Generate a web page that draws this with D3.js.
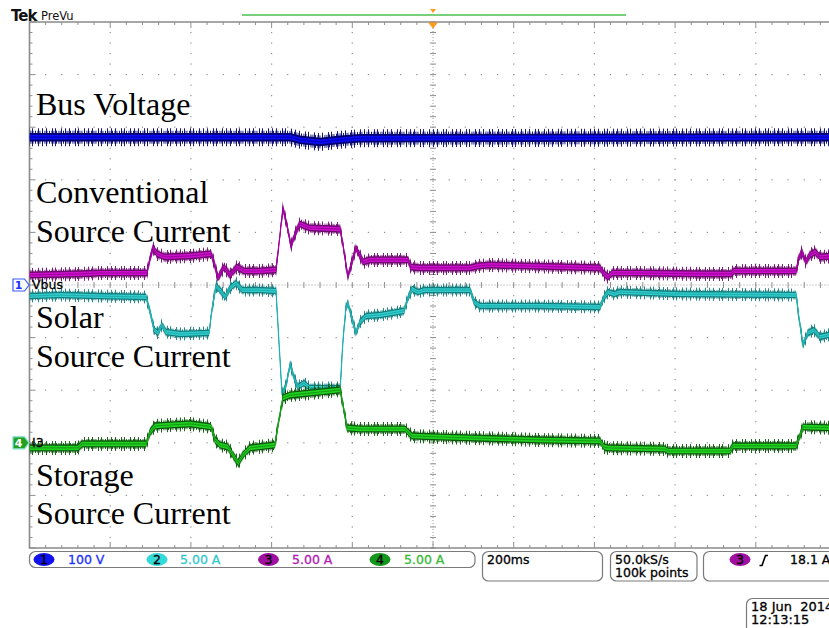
<!DOCTYPE html>
<html><head><meta charset="utf-8">
<script src="https://cdn.jsdelivr.net/npm/d3@7"></script>
<style>
html,body{margin:0;padding:0;background:#fff;}
svg{display:block;}
</style></head><body>
<svg id="scope" width="829" height="628"></svg>
<script>
// ---- Acquisition / display settings ----
const timeDomain = [-1000, 1000];      // ms, 200 ms/div over 10 divisions
const divDomain = [-5, 5];             // vertical divisions

// Channel settings: units per division and ground position in divisions
const ch1Scale = 100, ch1Offset = 0;     // Vbus (V)
const ch2Scale = 5,   ch2Offset = -3;    // solar source current (A)
const ch3Scale = 5,   ch3Offset = -3.3;  // conventional source current (A)
const ch4Scale = 5,   ch4Offset = -3;    // storage source current, I3 (A)

// ---- Waveform breakpoints: [time ms, value] ----
const busVoltage = [[-1000,281],[-354,281],[-330,276],[-280,272],[-230,276],[-181,279],[1000,281]];

const solarCurrent = [[-1000,13.95],[-924,14.05],[-825,13.95],[-711,13.86],[-701,12.43],[-691,10.72],[-682,10.44],[-672,11.20],[-662,10.53],[-627,10.34],[-555,10.44],[-548,12.62],[-538,14.90],[-528,14.52],[-515,13.86],[-503,14.71],[-488,15.19],[-473,14.52],[-429,14.52],[-389,14.43],[-382,9.77],[-374,4.54],[-364,5.49],[-354,7.49],[-344,6.16],[-335,5.30],[-320,5.68],[-305,5.21],[-230,5.21],[-223,9.77],[-216,12.81],[-211,13.29],[-201,11.86],[-191,10.44],[-181,11.48],[-166,12.05],[-131,12.15],[-72,12.53],[-62,13.76],[-52,14.62],[-37,14.33],[-22,14.52],[92,14.52],[102,13.38],[116,13.01],[265,13.01],[414,12.91],[424,13.86],[434,14.33],[449,14.14],[463,14.33],[612,14.14],[900,14.05],[907,11.86],[917,9.30],[929,10.44],[944,10.72],[959,10.06],[1000,10.44]];

const conventionalCurrent = [[-1000,17.45],[-875,17.55],[-825,17.64],[-709,17.64],[-701,19.07],[-694,20.02],[-684,19.45],[-664,19.16],[-602,19.26],[-550,19.45],[-543,18.69],[-533,17.17],[-518,18.21],[-503,17.45],[-486,18.21],[-468,17.83],[-429,17.83],[-389,17.93],[-382,20.30],[-372,23.82],[-362,22.21],[-352,20.21],[-340,21.54],[-330,22.30],[-305,21.92],[-230,21.82],[-223,20.30],[-211,17.26],[-201,18.69],[-191,20.02],[-181,19.26],[-173,18.69],[-156,18.88],[-62,18.88],[-55,18.21],[-32,18.12],[92,18.12],[112,18.31],[141,18.40],[414,18.12],[424,17.55],[434,17.26],[444,17.64],[513,17.64],[662,17.55],[739,17.55],[746,17.83],[900,17.83],[907,19.07],[914,19.64],[924,18.69],[934,19.35],[947,19.64],[959,19.16],[1000,19.26]];

const storageCurrent = [[-1000,-0.49],[-880,-0.49],[-870,-0.11],[-711,-0.11],[-701,1.03],[-689,1.60],[-652,1.69],[-602,1.79],[-565,1.60],[-550,1.50],[-540,0.27],[-528,-0.21],[-508,-0.40],[-496,-1.16],[-483,-1.92],[-471,-1.16],[-454,-0.49],[-392,-0.21],[-384,1.69],[-372,4.26],[-354,4.54],[-280,4.83],[-230,5.02],[-223,3.59],[-213,1.41],[-181,1.31],[-69,1.31],[-62,1.03],[-52,0.65],[17,0.55],[265,0.27],[414,0.17],[424,-0.40],[434,-0.49],[575,-0.59],[582,-0.78],[736,-0.78],[743,-0.30],[900,-0.30],[910,0.74],[917,1.50],[1000,1.41]];

// ---- Text ----
const traceTitles = [["Bus Voltage"], ["Conventional", "Source Current"], ["Solar", "Source Current"], ["Storage", "Source Current"]];
const channelNumbers = ["1", "2", "3", "4"];
const channelReadouts = ["100 V", "5.00 A", "5.00 A", "5.00 A"];
const timebaseText = "200ms";
const sampleText = ["50.0kS/s", "100k points"];
const triggerSource = "3", triggerLevel = "18.1 A";
const dateText = ["18 Jun\u00a0\u00a02014", "12:13:15"];

(function draw() {
  const svg = d3.select("#scope");
  const gLeft = 29.5, gRight = 836.5, gTop = 22, gBottom = 548;
  const x = d3.scaleLinear().domain(timeDomain).range([gLeft, gRight]);
  const y = d3.scaleLinear().domain(divDomain).range([gBottom, gTop]);
  const sans = "DejaVu Sans, sans-serif";

  const defs = svg.append("defs");
  defs.append("clipPath").attr("id", "plotclip").append("rect")
    .attr("x", gLeft).attr("y", gTop).attr("width", gRight - gLeft).attr("height", gBottom - gTop);

  // vertical-stroke patterns that give each trace its noisy fringe
  function spikePattern(id, color, width, xs) {
    const p = defs.append("pattern").attr("id", id).attr("patternUnits", "userSpaceOnUse")
      .attr("width", width).attr("height", 8);
    xs.forEach(v => p.append("rect").attr("x", v).attr("y", 0).attr("width", 0.9).attr("height", 8).attr("fill", color));
  }

  // ---- Graticule ----
  const grat = svg.append("g");
  const minorX = d3.range(timeDomain[0], timeDomain[1] + 1, 40);
  const majorX = d3.range(timeDomain[0], timeDomain[1] + 1, 200);
  const minorY = d3.range(0, 51).map(i => -5 + i * 0.2);
  const majorY = d3.range(-5, 6, 1);
  const gridCol = "#8f8f8f";

  majorX.filter(t => t !== 0 && Math.abs(t) !== 1000).forEach(t => {
    minorY.slice(1, -1).forEach(d => grat.append("rect").attr("x", x(t) - 0.6).attr("y", y(d) - 0.6)
      .attr("width", 1.2).attr("height", 1.2).attr("fill", gridCol));
  });
  majorY.filter(d => d !== 0 && Math.abs(d) !== 5).forEach(d => {
    minorX.slice(1, -1).forEach(t => grat.append("rect").attr("x", x(t) - 0.6).attr("y", y(d) - 0.6)
      .attr("width", 1.2).attr("height", 1.2).attr("fill", gridCol));
  });

  grat.append("line").attr("x1", gLeft).attr("x2", gRight).attr("y1", y(0)).attr("y2", y(0))
    .attr("stroke", "#9a9a9a").attr("stroke-dasharray", "1,2");
  grat.append("line").attr("x1", x(0)).attr("x2", x(0)).attr("y1", gTop).attr("y2", gBottom)
    .attr("stroke", "#9a9a9a").attr("stroke-dasharray", "1,2");
  minorX.forEach(t => grat.append("line").attr("x1", x(t)).attr("x2", x(t))
    .attr("y1", y(0) - 3).attr("y2", y(0) + 3).attr("stroke", gridCol));
  minorY.forEach(d => grat.append("line").attr("x1", x(0) - 3).attr("x2", x(0) + 3)
    .attr("y1", y(d)).attr("y2", y(d)).attr("stroke", gridCol));

  minorX.forEach((t, i) => {
    const L = i % 5 === 0 ? 6 : 3;
    grat.append("line").attr("x1", x(t)).attr("x2", x(t)).attr("y1", gTop).attr("y2", gTop + L).attr("stroke", gridCol);
    grat.append("line").attr("x1", x(t)).attr("x2", x(t)).attr("y1", gBottom).attr("y2", gBottom - L).attr("stroke", gridCol);
  });
  minorY.forEach((d, i) => {
    const L = i % 5 === 0 ? 6 : 3;
    grat.append("line").attr("x1", gLeft).attr("x2", gLeft + L).attr("y1", y(d)).attr("y2", y(d)).attr("stroke", gridCol);
  });
  grat.append("path").attr("d", `M${gRight},${gTop}H${gLeft}V${gBottom}H${gRight}`)
    .attr("fill", "none").attr("stroke", "#8a8a8a").attr("stroke-width", 1.6);

  // ---- Trace titles ----
  const titleRows = [[115], [203, 242], [328, 367], [486, 524]];
  traceTitles.forEach((lines, i) => lines.forEach((s, j) =>
    svg.append("text").attr("x", 36).attr("y", titleRows[i][j])
      .attr("font-family", "Liberation Serif, Times New Roman, serif").attr("font-size", 32)
      .attr("fill", "#000").text(s)));

  // ---- Traces ----
  const plot = svg.append("g").attr("clip-path", "url(#plotclip)");
  function drawTrace(data, scale, offset, st) {
    spikePattern(st.id + "-d", st.dark, 7, [0, 2.5, 4.5]);
    spikePattern(st.id + "-s", st.dark, 23, [0, 6, 9, 15, 19]);
    const X = d => x(d[0]);
    const Y = d => y(d[1] / scale + offset);
    const band = h => d3.area().x(X).y0(d => Y(d) + h).y1(d => Y(d) - h)(data);
    const g = plot.append("g");
    g.append("path").attr("d", band(st.outer)).attr("fill", `url(#${st.id}-s)`);
    g.append("path").attr("d", band(st.inner)).attr("fill", `url(#${st.id}-d)`);
    g.append("path").attr("d", band(st.body)).attr("fill", st.dark);
    g.append("path").attr("d", band(st.core)).attr("fill", st.bright);
    g.append("path").attr("d", d3.line().x(X).y(Y)(data)).attr("fill", "none")
      .attr("stroke", st.mid).attr("stroke-width", 1.2);
  }
  drawTrace(conventionalCurrent, ch3Scale, ch3Offset,
    {id: "c3", dark: "#6e0a6e", bright: "#cc10cc", mid: "#a000a0", outer: 7, inner: 5, body: 3.6, core: 2.1});
  drawTrace(solarCurrent, ch2Scale, ch2Offset,
    {id: "c2", dark: "#137d7d", bright: "#33cccc", mid: "#1fb0b0", outer: 6.5, inner: 4.5, body: 3.3, core: 1.9});
  drawTrace(storageCurrent, ch4Scale, ch4Offset,
    {id: "c4", dark: "#0a560a", bright: "#22d022", mid: "#12a012", outer: 7, inner: 5, body: 3.6, core: 2.2});
  drawTrace(busVoltage, ch1Scale, ch1Offset,
    {id: "c1", dark: "#00006e", bright: "#0c0cf0", mid: "#0000c0", outer: 9, inner: 6.5, body: 4.2, core: 2.4});

  // ---- Channel ground markers ----
  function groundMarker(yy, num, fill, stroke, txtCol, label) {
    const g = svg.append("g");
    g.append("path").attr("d", `M13,${yy - 6}h11.5l4.5,6l-4.5,6h-11.5z`)
      .attr("fill", fill).attr("stroke", stroke).attr("stroke-width", 1.2);
    g.append("text").attr("x", 18.5).attr("y", yy + 4.2).attr("text-anchor", "middle")
      .attr("font-family", sans).attr("font-size", 11).attr("font-weight", "bold").attr("fill", txtCol).text(num);
    g.append("text").attr("x", 32).attr("y", yy + 4).attr("font-family", sans).attr("font-size", 12.5)
      .attr("fill", "#000").attr("stroke", "#000").attr("stroke-width", 0.3).text(label);
  }
  groundMarker(y(ch1Offset), channelNumbers[0], "#fff", "#3a5cff", "#2030ff", "Vbus");
  groundMarker(y(ch4Offset), channelNumbers[3], "#22a022", "#7fe0d0", "#fff", "I3");

  // ---- Header ----
  svg.append("text").attr("x", 11).attr("y", 21).attr("font-family", sans).attr("font-weight", "bold")
    .attr("font-size", 15).attr("letter-spacing", -1).attr("fill", "#111").text("Tek");
  svg.append("text").attr("x", 41).attr("y", 20).attr("font-family", sans)
    .attr("font-size", 11.5).attr("fill", "#111").text("PreVu");
  svg.append("line").attr("x1", 242).attr("x2", 626).attr("y1", 15).attr("y2", 15)
    .attr("stroke", "#4cbf4c").attr("stroke-width", 1.5);
  svg.append("path").attr("d", `M${x(0) - 3},9h6l-3,4z`).attr("fill", "#ff9a1a");
  svg.append("path").attr("d", `M${x(0) - 5},22.5h10l-5,6z`).attr("fill", "#ff9a1a");

  // ---- Readout bar ----
  const bar = svg.append("g").attr("font-family", sans).attr("font-size", 12.5).attr("stroke-width", 0.3);
  const boxStroke = "#7a7a7a";
  function box(x0, x1, y0, y1) {
    bar.append("rect").attr("x", x0).attr("y", y0).attr("width", x1 - x0).attr("height", y1 - y0)
      .attr("rx", 6).attr("fill", "#fff").attr("stroke", boxStroke).attr("stroke-width", 1.2);
  }
  function label(xx, yy, col, s, anchor) {
    bar.append("text").attr("x", xx).attr("y", yy).attr("fill", col).attr("stroke", col)
      .attr("text-anchor", anchor || "start").text(s);
  }
  box(29.5, 475, 551.5, 567.5);
  const badgeCol = ["#1212ee", "#33dada", "#a010a0", "#14961a"];
  const readCol = ["#2030ff", "#33c8c8", "#b020b0", "#3ab83a"];
  const badgeX = [44, 157, 268.5, 380];
  const readX = [68, 180, 292, 404];
  channelNumbers.forEach((n, i) => {
    bar.append("ellipse").attr("cx", badgeX[i]).attr("cy", 559.5).attr("rx", 10.5).attr("ry", 6.5).attr("fill", badgeCol[i]);
    label(badgeX[i], 564, "#000", n, "middle");
    label(readX[i], 564, readCol[i], channelReadouts[i]);
  });
  box(482.5, 602.5, 551.5, 581);
  label(487, 564, "#000", timebaseText);
  box(610.5, 697, 551.5, 581);
  label(615, 564, "#000", sampleText[0]);
  label(615, 577, "#000", sampleText[1]);
  box(703.5, 860, 551.5, 581);
  bar.append("ellipse").attr("cx", 740).attr("cy", 559.5).attr("rx", 10.5).attr("ry", 6.5).attr("fill", badgeCol[2]);
  label(740, 564, "#000", triggerSource, "middle");
  bar.append("path").attr("d", "M759.5,565.5h2.5l3.5,-10h2.5").attr("fill", "none").attr("stroke", "#000").attr("stroke-width", 1.6);
  label(790, 564, "#000", triggerLevel);
  box(746.5, 860, 598.5, 640);
  bar.append("g").attr("font-size", 13);
  label(751, 611, "#000", dateText[0]);
  label(751, 624, "#000", dateText[1]);
  bar.selectAll("text").filter((d, i, n) => n[i].getAttribute("y") > 600).attr("font-size", 13);
})();
</script>
</body></html>
